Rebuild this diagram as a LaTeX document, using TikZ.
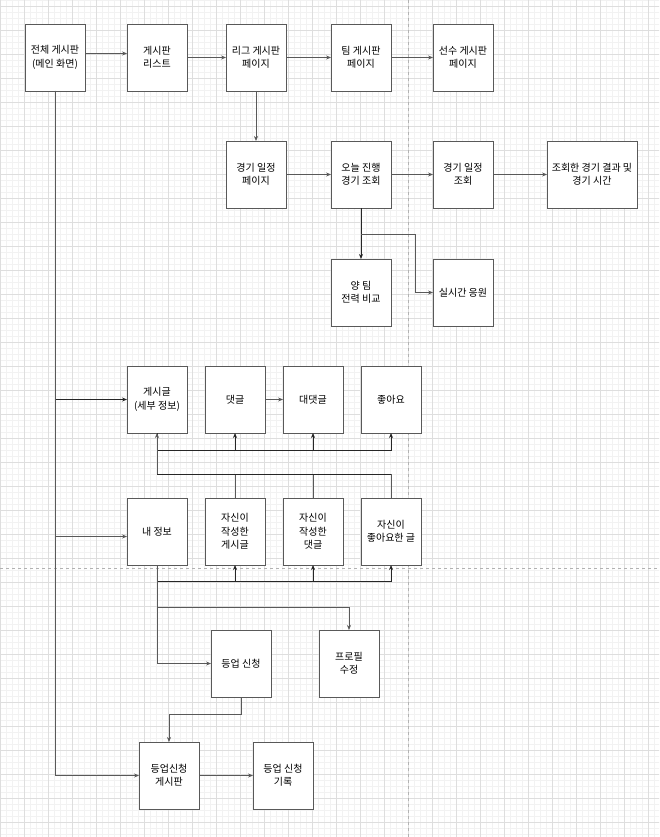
\documentclass[tikz,border=0pt]{standalone}
\usepackage{fontspec}
\newfontfamily\kr{Noto Sans CJK KR}
\usetikzlibrary{arrows.meta,positioning}
\tikzstyle{block} = [rectangle, draw=black!65, line width=0.9pt, fill=white, outer sep=0pt,
minimum width=60pt, minimum height=67pt, inner sep=1pt, text centered, align=center]
\tikzstyle{wideblock} = [block, minimum width=90pt]
\tikzstyle{wire} = [draw=black!65, line width=0.7pt]
\tikzstyle{line} = [wire, -{Stealth[length=5pt,width=4pt]}]
\tikzstyle{bus} = [line, draw=black!85, line width=0.95pt]
\tikzstyle{gridminor} = [draw=black!5, line width=0.4pt]
\tikzstyle{gridmajor} = [draw=black!13, line width=0.6pt]
\tikzstyle{pagebreak} = [draw=black!30, dashed, line width=0.5pt]

\begin{document}
\begin{tikzpicture}[x=1pt, y=-1pt, node distance=42pt,
  every node/.style={font=\kr\fontsize{10}{13.4}\selectfont}]

  % Page and grid
  \useasboundingbox (0,0) rectangle (659,837);
  \begin{scope}
    \clip (0,0) rectangle (659,837);
    \draw[gridminor, shift={(0.5,0.3)}, step=6pt] (-6,843) grid (665,-6);
    \draw[gridmajor, shift={(0.5,6.3)}, step=24pt] (-24,861) grid (683,-24);
    \draw[pagebreak] (408,0) -- (408,837);
    \draw[pagebreak] (0,568) -- (659,568);
  \end{scope}

  % Board pages
  \node [block] (main) at (55,57.5) {전체 게시판\\(메인 화면)};
  \node [block, right=of main] (list) {게시판\\리스트};
  \node [block, right=39pt of list] (league) {리그 게시판\\페이지};
  \node [block, right=45pt of league] (team) {팀 게시판\\페이지};
  \node [block, right=of team] (player) {선수 게시판\\페이지};

  % Match schedule
  \node [block, below=50pt of league] (sched) {경기 일정\\페이지};
  \node [block, right=45pt of sched] (today) {오늘 진행\\경기 조회};
  \node [block, right=of today] (schedq) {경기 일정\\조회};
  \node [wideblock, right=54pt of schedq] (result) {조회한 경기 결과 및\\경기 시간};
  \node [block, below=51pt of today] (compare) {양 팀\\전력 비교};
  \node [block, right=of compare] (cheer) {실시간 응원};

  % Posts
  \node [block] (post) at (157,399.5) {게시글\\(세부 정보)};
  \node [block, right=18pt of post] (cmt) {댓글};
  \node [block, right=18pt of cmt] (reply) {대댓글};
  \node [block, right=18pt of reply] (like) {좋아요};

  % My info
  \node [block, below=65pt of post] (myinfo) {내 정보};
  \node [block, right=18pt of myinfo] (mypost) {자신이\\작성한\\게시글};
  \node [block, right=18pt of mypost] (mycmt) {자신이\\작성한\\댓글};
  \node [block, right=18pt of mycmt] (mylike) {자신이\\좋아요한 글};

  % Level-up
  \node [block] (levelup) at (241,663.5) {등업 신청};
  \node [block, right=48pt of levelup] (profile) {프로필\\수정};
  \node [block] (lvboard) at (169,775.5) {등업신청\\게시판};
  \node [block, right=54pt of lvboard] (lvlog) {등업 신청\\기록};

  % Edges
  \path [line] ([yshift=4pt]main.east) -- ([yshift=4pt]list.west);
  \path [line] (list) -- (league);
  \path [line] (league) -- (team);
  \path [line] (team) -- (player);
  \path [line] (league) -- (sched);
  \path [line] (sched) -- (today);
  \path [line] (today) -- (schedq);
  \path [line] (schedq) -- (result);
  \path [bus] (today) -- (compare);
  \path [line] ([yshift=-26pt]today.south) -| ([xshift=-18pt]cheer.west) -- (cheer.west);

  \path [bus] (main.south) |- (post.west);
  \path [line] (main.south) |- ([yshift=-5pt]myinfo.west);
  \path [line] (main.south) |- (lvboard.west);

  \coordinate (postbus) at ([yshift=-17pt]post.south);
  \path [bus] (post.south) -- (postbus) -| (like.south);
  \path [bus] (postbus -| cmt.south) -- (cmt.south);
  \path [bus] (postbus -| reply.south) -- (reply.south);
  \path [line] (cmt) -- (reply);

  \coordinate (mybus) at ([yshift=-41pt]post.south);
  \path [line] (mylike.north) |- (mybus) -- (post.south);
  \path [wire] (mypost.north) -- (mypost.north |- mybus);
  \path [wire] (mycmt.north) -- (mycmt.north |- mybus);
  \path [bus, -] (mybus) -- (mybus -| mylike.north);

  \coordinate (infobus) at ([yshift=-16pt]myinfo.south);
  \path [bus] (myinfo.south) -- (infobus) -| (mylike.south);
  \path [bus] (infobus -| mypost.south) -- (mypost.south);
  \path [bus] (infobus -| mycmt.south) -- (mycmt.south);
  \path [line] (myinfo.south) |- ([yshift=23pt]profile.north) -- (profile.north);
  \path [line] (myinfo.south) |- (levelup.west);
  \path [line] (levelup.south) -- ([yshift=-17pt]levelup.south) -| (lvboard.north);
  \path [line] (lvboard) -- (lvlog);

\end{tikzpicture}
\end{document}
